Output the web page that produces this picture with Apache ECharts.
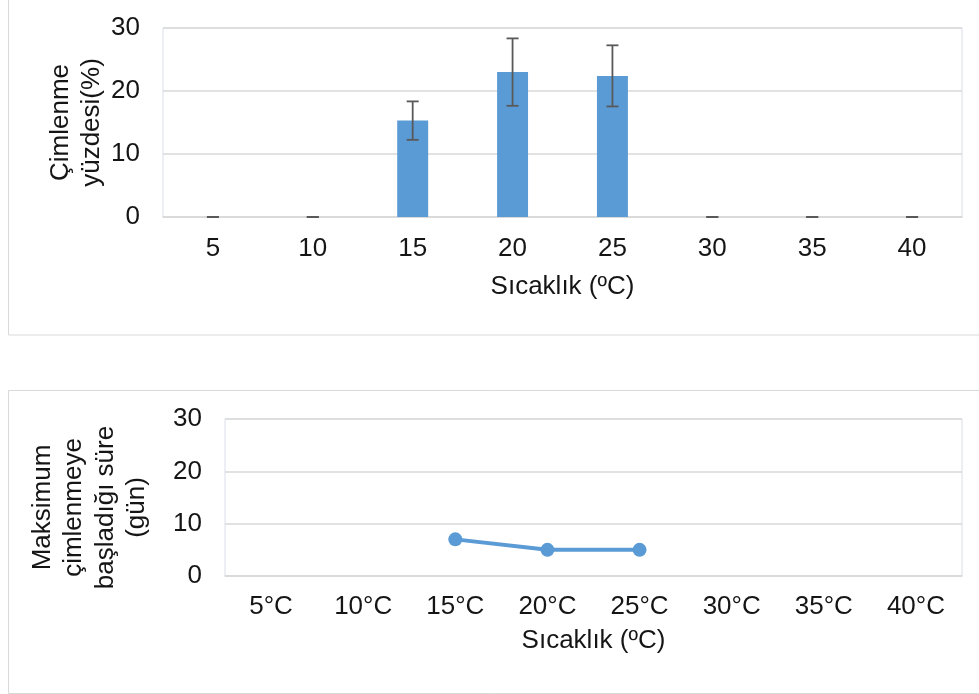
<!DOCTYPE html>
<html>
<head>
<meta charset="utf-8">
<script src="https://cdn.jsdelivr.net/npm/echarts@6/dist/echarts.min.js"></script>
<style>
  html, body { margin: 0; padding: 0; background: #fff; }
  #chart { width: 979px; height: 694px; }
</style>
</head>
<body>
<div id="chart"></div>
<script>
// Germination temperatures (top panel, numeric ticks)
const temps = ['5', '10', '15', '20', '25', '30', '35', '40'];
// Germination percentage per temperature
const germination = [0, 0, 15.3, 23.0, 22.4, 0, 0, 0];
// Standard error of germination percentage
const germErr = [0, 0, 3.05, 5.35, 4.85, 0, 0, 0];

// Temperatures for the bottom panel
const tempLabels = ['5°C', '10°C', '15°C', '20°C', '25°C', '30°C', '35°C', '40°C'];
// Days until maximum germination began
const daysToMax = [null, null, 7, 5, 5, null, null, null];

// Y axis ticks shared by both panels
const yTicks = [0, 10, 20, 30];

const FONT = 'Liberation Sans, Arial, sans-serif';
const TXT = '#151515';
const BLUE = '#5B9BD5';
const GRID = '#D9D9D9';
const FS = 26;

const chart = echarts.init(document.getElementById('chart'), null, { renderer: 'canvas' });

const errData = temps.map((t, i) => [i, germination[i] - germErr[i], germination[i] + germErr[i]]);

// Vertical error bar with caps at both ends
function renderErr(params, api) {
  const x = api.value(0);
  const lo = api.coord([x, Math.max(0, api.value(1))]);
  const hi = api.coord([x, api.value(2)]);
  const cap = 6;
  const style = { stroke: '#595959', lineWidth: 1.8 };
  return {
    type: 'group',
    children: [
      { type: 'line', shape: { x1: hi[0], y1: hi[1], x2: lo[0], y2: lo[1] }, style },
      { type: 'line', shape: { x1: hi[0] - cap, y1: hi[1], x2: hi[0] + cap, y2: hi[1] }, style },
      { type: 'line', shape: { x1: lo[0] - cap, y1: lo[1], x2: lo[0] + cap, y2: lo[1] }, style }
    ]
  };
}

const axisLabel = { color: TXT, fontFamily: FONT, fontSize: FS };
const nameStyle = { color: TXT, fontFamily: FONT, fontSize: FS };

chart.setOption({
  animation: false,
  textStyle: { fontFamily: FONT },
  graphic: [
    { type: 'rect', shape: { x: 8.5, y: -2, width: 975, height: 337 },
      style: { fill: 'none', stroke: GRID, lineWidth: 1 }, silent: true },
    { type: 'rect', shape: { x: 8.5, y: 390.5, width: 975, height: 303 },
      style: { fill: 'none', stroke: GRID, lineWidth: 1 }, silent: true }
  ],
  grid: [
    { left: 163, top: 28, width: 799, height: 189, show: true, borderColor: '#D9DEE8', borderWidth: 1 },
    { left: 225, top: 419, width: 737, height: 157, show: true, borderColor: '#D9DEE8', borderWidth: 1 }
  ],
  xAxis: [
    {
      gridIndex: 0, type: 'category', data: temps,
      axisLine: { lineStyle: { color: GRID, width: 1.5 } },
      axisTick: { show: false },
      axisLabel: Object.assign({ margin: 19 }, axisLabel),
      name: 'Sıcaklık (ºC)', nameLocation: 'middle', nameGap: 57, nameMoveOverlap: false,
      nameTextStyle: nameStyle
    },
    {
      gridIndex: 1, type: 'category', data: tempLabels,
      axisLine: { lineStyle: { color: GRID, width: 1.5 } },
      axisTick: { show: false },
      axisLabel: Object.assign({ margin: 18 }, axisLabel),
      name: 'Sıcaklık (ºC)', nameLocation: 'middle', nameGap: 52, nameMoveOverlap: false,
      nameTextStyle: nameStyle
    }
  ],
  yAxis: [
    {
      gridIndex: 0, type: 'value', min: yTicks[0], max: yTicks[yTicks.length - 1], interval: 10,
      axisLine: { show: false }, axisTick: { show: false },
      splitLine: { lineStyle: { color: GRID, width: 1.5 } },
      axisLabel: Object.assign({ margin: 23 }, axisLabel),
      name: 'Çimlenme\nyüzdesi(%)', nameLocation: 'middle', nameGap: 56, nameRotate: 90,
      nameMoveOverlap: false,
      nameTextStyle: Object.assign({ lineHeight: 31, align: 'center' }, nameStyle)
    },
    {
      gridIndex: 1, type: 'value', min: yTicks[0], max: yTicks[yTicks.length - 1], interval: 10,
      axisLine: { show: false }, axisTick: { show: false },
      splitLine: { lineStyle: { color: GRID, width: 1.5 } },
      axisLabel: Object.assign({ margin: 23 }, axisLabel),
      name: 'Maksimum\nçimlenmeye\nbaşladığı süre\n(gün)', nameLocation: 'middle', nameGap: 72, nameRotate: 90,
      nameMoveOverlap: false,
      nameTextStyle: Object.assign({ lineHeight: 31.5, align: 'center', padding: [0, 20, 0, 0] }, nameStyle)
    }
  ],
  series: [
    {
      type: 'bar', xAxisIndex: 0, yAxisIndex: 0, data: germination,
      barWidth: '31%',
      itemStyle: { color: BLUE }
    },
    {
      type: 'custom', xAxisIndex: 0, yAxisIndex: 0, data: errData,
      renderItem: renderErr, z: 5
    },
    {
      type: 'line', xAxisIndex: 1, yAxisIndex: 1, data: daysToMax,
      symbol: 'circle', symbolSize: 14,
      lineStyle: { color: BLUE, width: 4 },
      itemStyle: { color: BLUE }
    }
  ]
});
</script>
</body>
</html>
